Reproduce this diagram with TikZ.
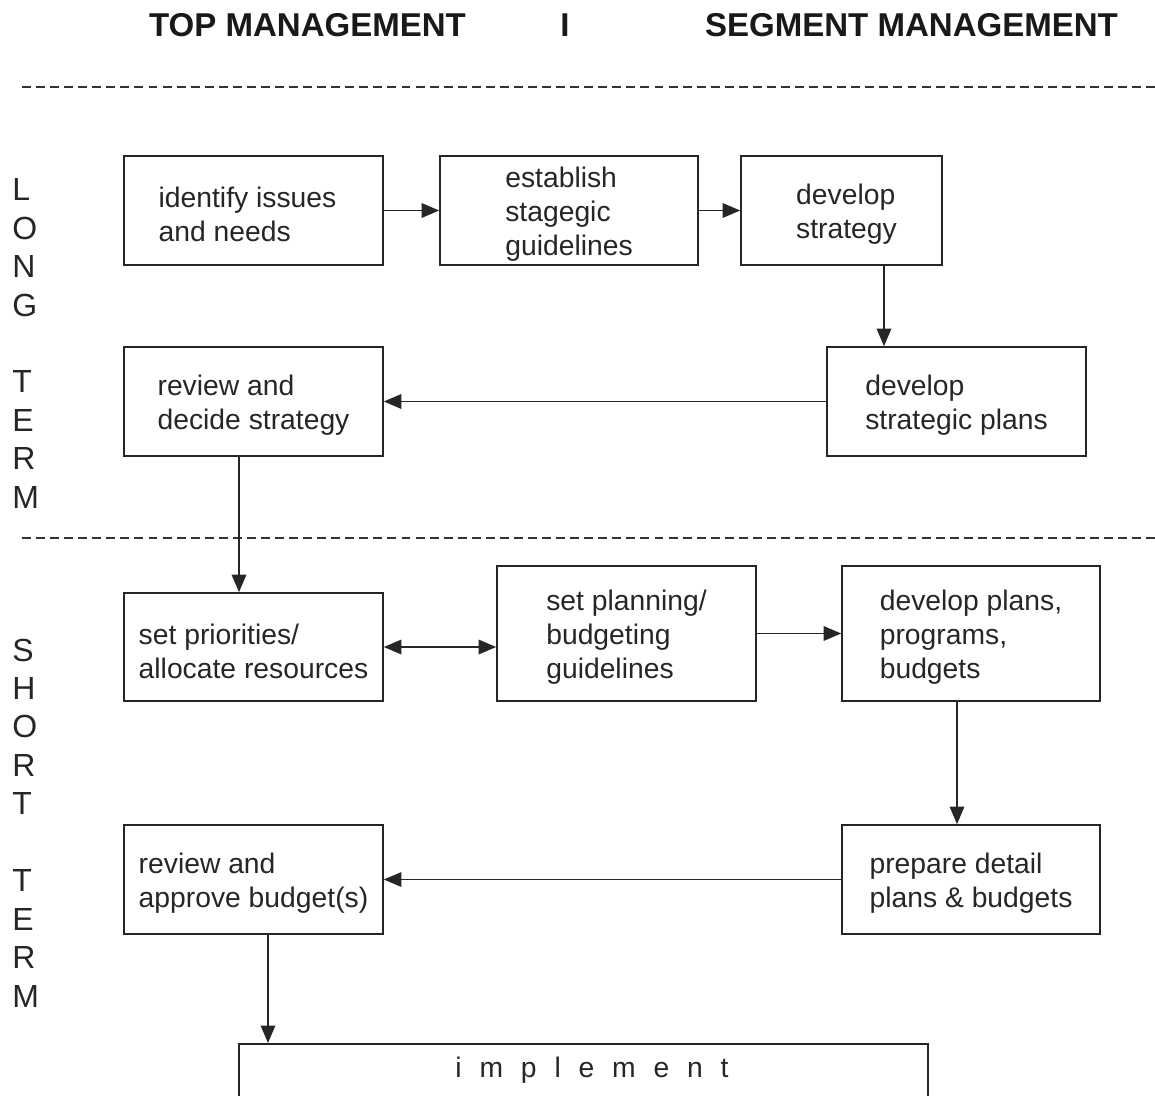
\documentclass[tikz,border=0pt]{standalone}
\usepackage{fontspec}
\setmainfont{Liberation Sans}
\usetikzlibrary{arrows.meta,calc}
% invisible rule that lengthens the first line upwards, so the text sits a little lower in its box
\newcommand{\boxlift}{\rule{0pt}{16.3pt}}
\begin{document}
\begin{tikzpicture}[x=0.02cm,y=-0.02cm,
  box/.style={draw=black!85, line width=0.95pt, rectangle, align=left,
    inner sep=0pt, text=black!85, font=\fontsize{16.1}{19.3}\selectfont},
  arr/.style={-{Triangle[length=0.35cm,width=0.29cm]}, line width=0.9pt, draw=black!85},
  dblarr/.style={{Triangle[length=0.35cm,width=0.29cm]}-{Triangle[length=0.35cm,width=0.29cm]},
    line width=0.9pt, draw=black!85},
  sep/.style={draw=black!80, line width=0.8pt, dash pattern=on 5.1pt off 2.9pt},
  head/.style={inner sep=0pt, text=black!90, font=\bfseries\fontsize{18.8}{22}\selectfont},
  side/.style={inner sep=0pt, anchor=west, align=left, text=black!85,
    font=\fontsize{18.2}{21.9}\selectfont}
]
\clip (0,0) rectangle (1155,1095);

% column headings
\node[head] (tophead) at (307.5,25) {TOP MANAGEMENT};
\node[head] (bar) at (565,25) {I};
\node[head] (seghead) at (911.5,25) {SEGMENT MANAGEMENT};

% horizontal separators
\coordinate (s1a) at (22,87);  \coordinate (s1b) at (1155,87);
\coordinate (s2a) at (22,538); \coordinate (s2b) at (1155,538);
\draw[sep] (s1a) -- (s1b);
\draw[sep] (s2a) -- (s2b);

% vertical band labels
\node[side] (longterm) at (12,343.5) {L\\O\\N\\G\\[0pt]\strut\\T\\E\\R\\M};
\node[side] (shortterm) at (12,823) {S\\H\\O\\R\\T\\[0pt]\strut\\T\\E\\R\\M};

% long term boxes
\node[box, minimum width=5.18cm, minimum height=2.18cm] (identify) at (253.5,210.5)
  {\boxlift identify issues\hspace*{0.24cm}\\and needs};
\node[box, minimum width=5.16cm, minimum height=2.18cm] (establish) at (569,210.5)
  {\boxlift establish\\stagegic\\guidelines};
\node[box, minimum width=4.02cm, minimum height=2.18cm] (devstrat) at (841.5,210.5)
  {\boxlift\hspace*{0.2cm}develop\\\hspace*{0.2cm}strategy};
\node[box, minimum width=5.18cm, minimum height=2.18cm] (strplans) at (956.5,401.5)
  {\boxlift develop\\strategic plans};
\node[box, minimum width=5.18cm, minimum height=2.18cm] (review) at (253.5,401.5)
  {\boxlift review and\\decide strategy};

% short term boxes
\node[box, minimum width=5.18cm, minimum height=2.16cm] (prio) at (253.5,647)
  {\boxlift set priorities/\\allocate resources};
\node[box, minimum width=5.18cm, minimum height=2.7cm] (planning) at (626.5,633.5)
  {\boxlift set planning/\\budgeting\\guidelines};
\node[box, minimum width=5.16cm, minimum height=2.7cm] (devprog) at (971,633.5)
  {\boxlift develop plans,\\programs,\\budgets};
\node[box, minimum width=5.16cm, minimum height=2.18cm] (prepare) at (971,879.5)
  {\boxlift prepare detail\\plans \& budgets};
\node[box, minimum width=5.18cm, minimum height=2.18cm] (approve) at (253.5,879.5)
  {\boxlift review and\\approve budget(s)};

% implementation box (runs off the lower edge)
\node[box, anchor=north, minimum width=13.78cm, minimum height=2cm] (impl) at (583.5,1043) {};
\node[inner sep=0pt, text=black!85, font=\fontsize{16.1}{19.3}\selectfont] (impllabel) at (592,1070)
  {\spaceskip=0.63em i m p l e m e n t};

% connectors
\draw[arr] (identify.east) -- (establish.west);
\draw[arr] (establish.east) -- (devstrat.west);
\draw[arr] ([xshift=0.85cm]devstrat.south) -- ([xshift=0.85cm]devstrat.south |- strplans.north);
\draw[arr] (strplans.west) -- (review.east);
\draw[arr] ([xshift=-0.29cm]review.south) -- ([xshift=-0.29cm]prio.north);
\draw[dblarr] (prio.east) -- (prio.east -| planning.west);
\draw[arr] (planning.east) -- (devprog.west);
\draw[arr] ([xshift=-0.28cm]devprog.south) -- ([xshift=-0.28cm]prepare.north);
\draw[arr] (prepare.west) -- (approve.east);
\draw[arr] ([xshift=0.29cm]approve.south) -- ([xshift=0.29cm]approve.south |- impl.north);
\end{tikzpicture}
\end{document}
